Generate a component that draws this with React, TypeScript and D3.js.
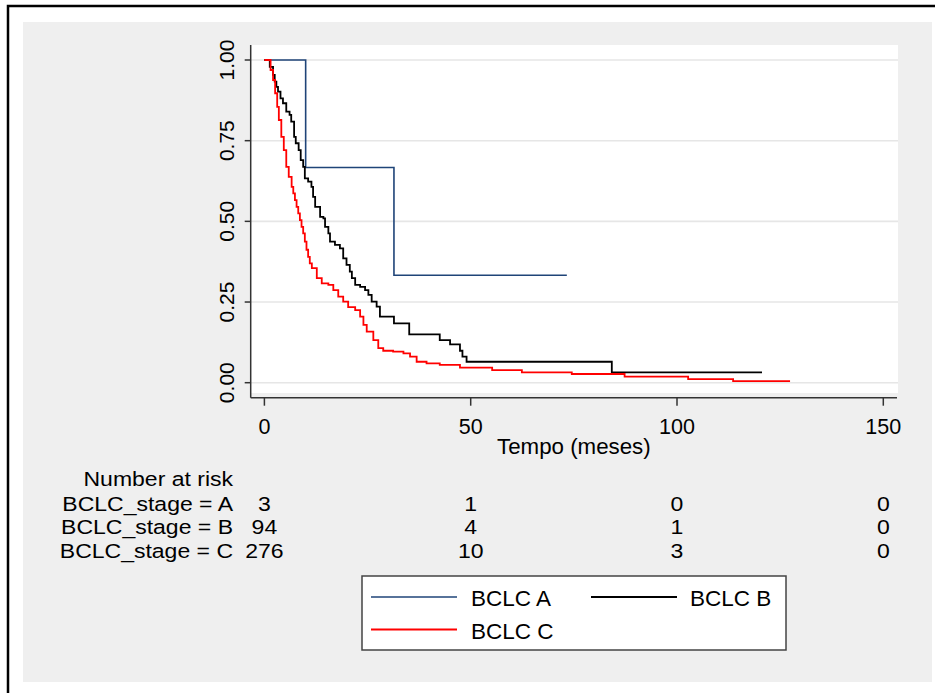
import * as d3 from "d3";

// Kaplan-Meier step points (time in months, survival after the step)
const TIME_A = [0, 10, 31.4];
const SURV_A = [1, 0.667, 0.333];
const END_A = 73.3;

const TIME_B = [
  0, 1.3, 2.1, 2.5, 2.9, 3.3, 3.9, 4.5, 5.3, 6.1, 6.5, 7.2, 7.6, 8.3, 8.8, 9.4, 9.8, 10.6, 11.4,
  11.8, 12.3, 13.5, 14.3, 14.7, 15.5, 15.9, 17.1, 18.3, 19.1, 19.9, 20.7, 21.2, 22.0, 23.2, 24.4,
  25.2, 26.0, 27.2, 28.0, 31.4, 35.1, 42.5, 45.0, 47.4, 48.0, 49.0, 84.2,
];
const SURV_B = [
  1, 0.979, 0.954, 0.933, 0.917, 0.902, 0.881, 0.866, 0.84, 0.83, 0.809, 0.762, 0.742, 0.721, 0.69,
  0.669, 0.633, 0.623, 0.607, 0.576, 0.545, 0.514, 0.509, 0.483, 0.463, 0.437, 0.427, 0.416, 0.385,
  0.365, 0.344, 0.324, 0.303, 0.297, 0.287, 0.272, 0.251, 0.236, 0.205, 0.184, 0.15, 0.132, 0.119,
  0.099, 0.081, 0.065, 0.032,
];
const END_B = 120.6;

const TIME_C = [
  0, 1.5, 2.1, 2.6, 3.1, 3.5, 4.1, 4.7, 5.3, 5.9, 6.6, 7.0, 7.4, 7.8, 8.2, 8.6, 9.0, 9.4, 9.8, 10.2,
  10.6, 11.0, 11.5, 12.7, 13.9, 15.5, 16.7, 17.9, 19.1, 20.3, 22.0, 23.2, 24.0, 24.8, 26.4, 27.6,
  28.8, 31.2, 33.7, 35.3, 36.9, 39.3, 42.5, 47.4, 55.2, 62.4, 74.5, 87.3, 102.7, 113.6,
];
const SURV_C = [
  1, 0.969, 0.938, 0.897, 0.855, 0.814, 0.762, 0.721, 0.669, 0.638, 0.607, 0.587, 0.566, 0.545,
  0.525, 0.504, 0.483, 0.463, 0.437, 0.412, 0.39, 0.37, 0.355, 0.324, 0.308, 0.303, 0.287, 0.267,
  0.251, 0.234, 0.225, 0.205, 0.179, 0.158, 0.132, 0.107, 0.099, 0.096, 0.091, 0.081, 0.065, 0.06,
  0.055, 0.047, 0.039, 0.032, 0.027, 0.019, 0.011, 0.005,
];
const END_C = 127.4;

const X_TICKS = [0, 50, 100, 150];
const Y_TICKS = [0, 0.25, 0.5, 0.75, 1];
const Y_TICK_LABELS = ["0.00", "0.25", "0.50", "0.75", "1.00"];

const RISK_GROUPS = ["BCLC_stage = A", "BCLC_stage = B", "BCLC_stage = C"];
const RISK_A = [3, 1, 0, 0];
const RISK_B = [94, 4, 1, 0];
const RISK_C = [276, 10, 3, 0];

const LEGEND_LABELS = ["BCLC A", "BCLC B", "BCLC C"];
const COLORS = ["#1f4478", "#000000", "#ff0000"];

const FONT = "'Liberation Sans', Arial, Helvetica, sans-serif";

type Pt = { t: number; s: number };

function buildPoints(times: number[], surv: number[], end: number): Pt[] {
  const pts = times.map((t, i) => ({ t, s: surv[i] }));
  pts.push({ t: end, s: surv[surv.length - 1] });
  return pts;
}

export default function App() {
  const width = 935;
  const height = 693;

  // plot region (white) and axes
  const plot = { left: 251, right: 898, top: 45, bottom: 393 };
  const xAxisY = 397.7;
  const yAxisX = 250.7;

  const x = d3.scaleLinear().domain([0, 150]).range([264.4, 883.3]);
  const y = d3.scaleLinear().domain([0, 1]).range([382.7, 60]);

  const line = d3
    .line<Pt>()
    .x((d) => x(d.t))
    .y((d) => y(d.s))
    .curve(d3.curveStepAfter);

  const series = [
    buildPoints(TIME_A, SURV_A, END_A),
    buildPoints(TIME_B, SURV_B, END_B),
    buildPoints(TIME_C, SURV_C, END_C),
  ];
  const risk = [RISK_A, RISK_B, RISK_C];

  const riskFont = 19.5;
  const riskStretch = 1.18;
  const riskRowsY = [510.5, 534, 557.5];

  return (
    <svg
      width={width}
      height={height}
      style={{ position: "absolute", left: 0, top: 0, display: "block", background: "#fff" }}
      fontFamily={FONT}
    >
      {/* outer frame and grey background */}
      <rect x={23} y={22} width={909} height={660} fill="#efefef" />
      <path d={`M8,${height} V6 H${width}`} fill="none" stroke="#000" strokeWidth={2.5} />

      {/* plot region */}
      <rect
        x={plot.left}
        y={plot.top}
        width={plot.right - plot.left}
        height={plot.bottom - plot.top}
        fill="#fff"
      />

      {/* gridlines */}
      {Y_TICKS.map((v) => (
        <line
          key={`g${v}`}
          x1={plot.left}
          x2={plot.right}
          y1={y(v)}
          y2={y(v)}
          stroke="#e6e6e6"
          strokeWidth={1.6}
        />
      ))}

      {/* curves */}
      {series.map((pts, i) => (
        <path
          key={`s${i}`}
          d={line(pts) ?? ""}
          fill="none"
          stroke={COLORS[i]}
          strokeWidth={i === 0 ? 1.6 : 1.8}
        />
      ))}

      {/* y axis */}
      <line x1={yAxisX} x2={yAxisX} y1={plot.top} y2={xAxisY} stroke="#333" strokeWidth={1.5} />
      {Y_TICKS.map((v, i) => (
        <g key={`yt${v}`}>
          <line x1={yAxisX - 6} x2={yAxisX} y1={y(v)} y2={y(v)} stroke="#333" strokeWidth={1.5} />
          <text
            transform={`translate(233.5, ${y(v)}) rotate(-90)`}
            textAnchor="middle"
            fontSize={21}
            fill="#000"
          >
            {Y_TICK_LABELS[i]}
          </text>
        </g>
      ))}

      {/* x axis */}
      <line x1={yAxisX} x2={897} y1={xAxisY} y2={xAxisY} stroke="#333" strokeWidth={1.5} />
      {X_TICKS.map((v) => (
        <g key={`xt${v}`}>
          <line x1={x(v)} x2={x(v)} y1={xAxisY} y2={xAxisY + 8} stroke="#333" strokeWidth={1.5} />
          <text x={x(v)} y={433.5} textAnchor="middle" fontSize={21.5} fill="#000">
            {v}
          </text>
        </g>
      ))}
      <text x={(x(0) + x(150)) / 2} y={453.5} textAnchor="middle" fontSize={22.3} fill="#000">
        Tempo (meses)
      </text>

      {/* number at risk table */}
      <text
        transform={`translate(233, 485.5) scale(${riskStretch},1)`}
        textAnchor="end"
        fontSize={riskFont}
        fill="#000"
      >
        Number at risk
      </text>
      {RISK_GROUPS.map((g, r) => (
        <g key={g}>
          <text
            transform={`translate(233, ${riskRowsY[r]}) scale(${riskStretch},1)`}
            textAnchor="end"
            fontSize={riskFont}
            fill="#000"
          >
            {g}
          </text>
          {X_TICKS.map((t, c) => (
            <text
              key={`${g}-${t}`}
              transform={`translate(${x(t)}, ${riskRowsY[r]}) scale(${riskStretch},1)`}
              textAnchor="middle"
              fontSize={riskFont}
              fill="#000"
            >
              {risk[r][c]}
            </text>
          ))}
        </g>
      ))}

      {/* legend */}
      <rect x={362} y={576} width={424} height={74} fill="#fff" stroke="#444" strokeWidth={1.5} />
      {[
        { lx: 371, ly: 597, tx: 471, ty: 605.5 },
        { lx: 591, ly: 597, tx: 690, ty: 605.5 },
        { lx: 371, ly: 629.5, tx: 471, ty: 638.5 },
      ].map((p, i) => (
        <g key={LEGEND_LABELS[i]}>
          <line
            x1={p.lx}
            x2={p.lx + 86}
            y1={p.ly}
            y2={p.ly}
            stroke={COLORS[i]}
            strokeWidth={i === 0 ? 1.6 : 1.8}
          />
          <text x={p.tx} y={p.ty} fontSize={22.5} fill="#000">
            {LEGEND_LABELS[i]}
          </text>
        </g>
      ))}
    </svg>
  );
}
